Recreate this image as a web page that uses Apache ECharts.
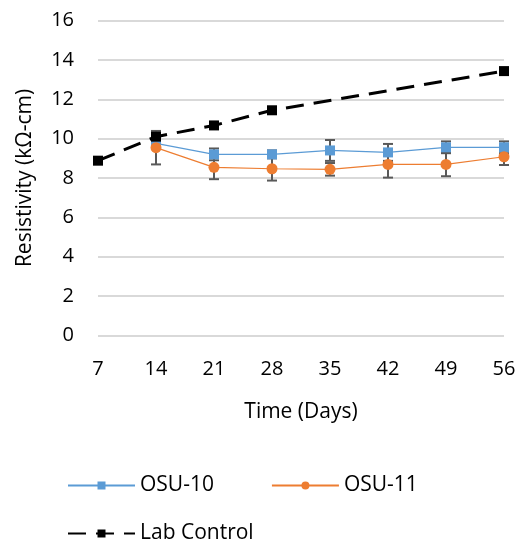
<!DOCTYPE html>
<html><head><meta charset="utf-8">
<script src="https://cdn.jsdelivr.net/npm/echarts@6/dist/echarts.min.js"></script>
<style>html,body{margin:0;padding:0;background:#fff}#c{width:519px;height:544px}</style>
</head><body><div id="c"></div>
<script>
const days = ['7','14','21','28','35','42','49','56'];
const osu10 = [null, 9.76, 9.2, 9.2, 9.4, 9.3, 9.56, 9.56];
const osu10Err = [null, 0.1, 0.3, 0.2, 0.53, 0.43, 0.3, 0.3];
const osu11 = [null, 9.54, 8.54, 8.47, 8.44, 8.69, 8.69, 9.08];
const osu11Err = [null, 0.85, 0.6, 0.6, 0.32, 0.67, 0.6, 0.42];
const labControl = [8.88, 10.1, 10.67, 11.44, null, null, null, 13.43];

const FONT = '"Open Sans", "Noto Sans", sans-serif';

function errData(vals, errs) {
  const out = [];
  vals.forEach((v, i) => { if (v != null) out.push([i, v - errs[i], v + errs[i]]); });
  return out;
}
function errSeries(vals, errs) {
  return {
    type: 'custom', silent: true, z: 1,
    data: errData(vals, errs),
    encode: { x: 0, y: [1, 2] },
    renderItem: function (params, api) {
      const lo = api.coord([api.value(0), api.value(1)]);
      const hi = api.coord([api.value(0), api.value(2)]);
      const w = 5;
      const st = { stroke: '#595959', lineWidth: 2 };
      return { type: 'group', children: [
        { type: 'line', shape: { x1: lo[0], y1: lo[1], x2: hi[0], y2: hi[1] }, style: st },
        { type: 'line', shape: { x1: lo[0] - w, y1: lo[1], x2: lo[0] + w, y2: lo[1] }, style: st },
        { type: 'line', shape: { x1: hi[0] - w, y1: hi[1], x2: hi[0] + w, y2: hi[1] }, style: st }
      ]};
    }
  };
}

const chart = echarts.init(document.getElementById('c'), null, { renderer: 'canvas' });
chart.setOption({
  animation: false,
  backgroundColor: '#fff',
  textStyle: { fontFamily: FONT },
  grid: { left: 98, right: 15, top: 20.5, bottom: 208.5, containLabel: false },
  xAxis: {
    type: 'category', data: days, boundaryGap: false,
    name: 'Time (Days)', nameLocation: 'middle', nameGap: 66,
    nameTextStyle: { fontSize: 21, color: '#000', fontFamily: FONT },
    axisLine: { show: false }, axisTick: { show: false },
    axisLabel: { fontSize: 20, color: '#000', margin: 24, fontFamily: FONT },
    splitLine: { show: false }
  },
  yAxis: {
    type: 'value', min: 0, max: 16, interval: 2,
    name: 'Resistivity (kΩ-cm)', nameLocation: 'middle', nameGap: 62,
    nameTextStyle: { fontSize: 21, color: '#000', fontFamily: FONT },
    axisLine: { show: false }, axisTick: { show: false },
    axisLabel: { fontSize: 20, color: '#000', margin: 24, fontFamily: FONT },
    splitLine: { lineStyle: { color: '#d9d9d9', width: 2 } }
  },
  legend: [
    { data: ['OSU-10', 'OSU-11'], left: 62, top: 470, itemWidth: 67, itemHeight: 10, itemGap: 57,
      textStyle: { fontSize: 21, color: '#000', fontFamily: FONT } },
    { data: ['Lab Control'], left: 62, top: 518, itemWidth: 67, itemHeight: 10,
      textStyle: { fontSize: 21, color: '#000', fontFamily: FONT } }
  ],
  series: [
    errSeries(osu10, osu10Err),
    errSeries(osu11, osu11Err),
    { name: 'OSU-10', type: 'line', data: osu10, z: 3, color: '#5B9BD5',
      symbol: 'rect', symbolSize: 10, lineStyle: { width: 1.2, color: '#5B9BD5' },
      itemStyle: { color: '#5B9BD5' } },
    { name: 'OSU-11', type: 'line', data: osu11, z: 3, color: '#ED7D31',
      symbol: 'circle', symbolSize: 11, lineStyle: { width: 1.2, color: '#ED7D31' },
      itemStyle: { color: '#ED7D31' } },
    { name: 'Lab Control', type: 'line', data: labControl, connectNulls: true, z: 4, color: '#000',
      symbol: 'rect', symbolSize: 10, lineStyle: { width: 3, color: '#000', type: [18, 10] },
      itemStyle: { color: '#000' } }
  ]
});
</script></body></html>
